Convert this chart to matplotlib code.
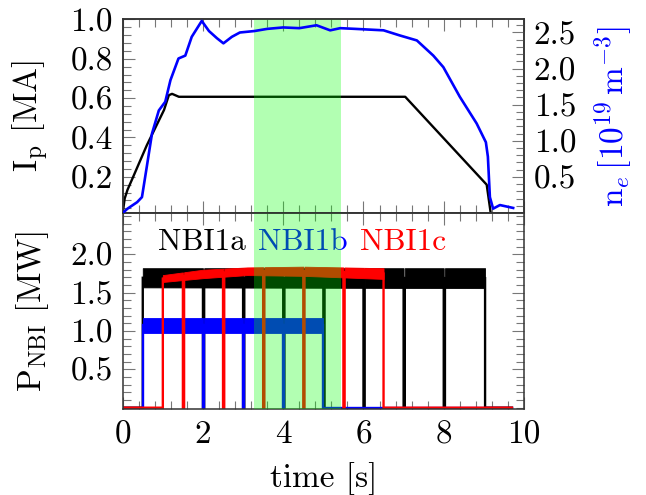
import numpy as np
import matplotlib
matplotlib.use("Agg")
import matplotlib.pyplot as plt
from matplotlib.ticker import MultipleLocator

FS = 24
plt.rcParams.update({
    "font.family": "serif",
    "font.serif": ["cmr10"],
    "mathtext.fontset": "cm",
    "axes.formatter.use_mathtext": True,
    "font.size": FS,
})

# ---------------- data ----------------
# plasma current I_p [MA]
ip_t = [0.0, 0.05, 0.12, 0.24, 0.60, 1.03, 1.15, 1.23, 1.40, 3.0, 5.0, 7.04, 9.07, 9.17]
ip_v = [0.016, 0.09, 0.134, 0.19, 0.36, 0.54, 0.615, 0.622, 0.607, 0.607, 0.607, 0.607, 0.16, 0.016]

# line-averaged density n_e [1e19 m^-3]
ne_t = [0.0, 0.12, 0.36, 0.48, 0.60, 0.73, 0.90, 1.06, 1.19, 1.39, 1.56, 1.72, 1.97,
        2.15, 2.35, 2.51, 2.72, 2.92, 3.28, 3.6, 4.0, 4.4, 4.83, 5.17, 5.42, 5.8,
        6.5, 6.9, 7.33, 7.74, 7.99, 8.4, 8.82, 9.05, 9.10, 9.15, 9.23, 9.40, 9.73]
ne_v = [0.0, 0.06, 0.15, 0.22, 0.64, 1.10, 1.42, 1.54, 1.84, 2.14, 2.18, 2.44, 2.66,
        2.52, 2.42, 2.35, 2.44, 2.50, 2.52, 2.55, 2.57, 2.56, 2.60, 2.53, 2.56, 2.55,
        2.53, 2.46, 2.39, 2.18, 2.02, 1.61, 1.24, 0.98, 0.78, 0.22, 0.06, 0.11, 0.07]

# NBI sources: switch-on, switch-off, short notches, noise envelope [MW]
nbi1a_on, nbi1a_off = 0.50, 9.03
nbi1a_notch = [2.0, 3.0, 4.0, 5.0, 6.0, 7.0, 8.0]
nbi1a_env_t = [0.50, 9.03]
nbi1a_lo = [1.57, 1.56]
nbi1a_hi = [1.82, 1.82]

nbi1b_on, nbi1b_off = 0.50, 5.00
nbi1b_notch = [2.0, 3.0, 4.0]
nbi1b_env_t = [0.50, 5.00]
nbi1b_lo = [0.98, 0.98]
nbi1b_hi = [1.17, 1.17]

nbi1c_on, nbi1c_off = 1.00, 6.50
nbi1c_notch = [1.5, 2.5, 3.5, 4.5, 5.5]
nbi1c_env_t = [1.00, 2.00, 3.10, 4.50, 6.50]
nbi1c_lo = [1.64, 1.69, 1.73, 1.72, 1.68]
nbi1c_hi = [1.73, 1.80, 1.83, 1.84, 1.82]

notch_gap = 0.03
t_end = 9.7
band = (3.27, 5.43)

# ---------------- figure ----------------
fig = plt.figure(figsize=(6.46, 4.95), dpi=100)
L, W = 122.7 / 646, (524 - 122.7) / 646
ax1 = fig.add_axes([L, 1 - 213 / 495, W, (213 - 19.5) / 495])
ax3 = fig.add_axes([L, 1 - 409 / 495, W, (409 - 213) / 495], sharex=ax1)
ax2 = ax1.twinx()

spine_col = "#333333"
tick_col = "#777777"


def style(ax):
    for s in ax.spines.values():
        s.set_color(spine_col)
        s.set_linewidth(1.1)
    ax.tick_params(which="both", direction="in", color=tick_col, width=0.8,
                   labelsize=FS, pad=7)
    ax.tick_params(which="major", length=8.4)
    ax.tick_params(which="minor", length=5.6)


# top panel
ax1.plot(ip_t, ip_v, color="black", lw=1.7, zorder=2)
ax1.axvspan(*band, color=(0, 1, 0), alpha=0.3, lw=0, zorder=5)
ax1.set_xlim(0, 10)
ax1.set_ylim(0.016, 1.0)
ax1.set_yticks([0.2, 0.4, 0.6, 0.8, 1.0])
ax1.set_yticklabels(["0.2", "0.4", "0.6", "0.8", "1.0"])
ax1.yaxis.set_minor_locator(MultipleLocator(0.04))
ax1.xaxis.set_major_locator(MultipleLocator(2))
ax1.xaxis.set_minor_locator(MultipleLocator(0.4))
style(ax1)
ax1.tick_params(which="both", top=True, bottom=True, left=True, right=False,
                labelbottom=False)
ax1.set_ylabel(r"$\mathrm{I_p}$ [MA]", fontsize=FS, labelpad=14)

ax2.plot(ne_t, ne_v, color="blue", lw=1.9, zorder=3)
ax2.set_ylim(0.0, 2.68)
ax2.set_yticks([0.5, 1.0, 1.5, 2.0, 2.5])
ax2.set_yticklabels(["0.5", "1.0", "1.5", "2.0", "2.5"])
ax2.yaxis.set_minor_locator(MultipleLocator(0.1))
style(ax2)
ax2.tick_params(which="both", right=True, left=False, top=False, bottom=False)
ax2.set_ylabel(r"$\mathrm{n}_e\,[10^{19}\,\mathrm{m}^{-3}]$", color="blue",
               fontsize=FS, labelpad=12)


# bottom panel
def draw_beam(ax, t_on, t_off, notches, env_t, lo, hi, color, z):
    env_t = np.asarray(env_t)
    lo = np.asarray(lo)
    hi = np.asarray(hi)
    mid = (lo + hi) / 2

    def lvl(t):
        return float(np.interp(t, env_t, mid))

    ts = [0.0, t_on, t_on]
    ys = [0.0, 0.0, lvl(t_on)]
    for n in notches:
        ts += [n, n, n + notch_gap, n + notch_gap]
        ys += [lvl(n), 0.0, 0.0, lvl(n + notch_gap)]
    ts += [t_off, t_off, t_end]
    ys += [lvl(t_off), 0.0, 0.0]
    ax.plot(ts, ys, color=color, lw=1.7, zorder=z, solid_joinstyle="miter")

    starts = [t_on] + [n + notch_gap for n in notches]
    stops = list(notches) + [t_off]
    for a, b in zip(starts, stops):
        inner = [t for t in env_t if a < t < b]
        st = np.array([a] + inner + [b])
        ax.fill_between(st, np.interp(st, env_t, lo), np.interp(st, env_t, hi),
                        color=color, lw=0.6, zorder=z)


draw_beam(ax3, nbi1a_on, nbi1a_off, nbi1a_notch, nbi1a_env_t, nbi1a_lo, nbi1a_hi, "black", 2)
draw_beam(ax3, nbi1b_on, nbi1b_off, nbi1b_notch, nbi1b_env_t, nbi1b_lo, nbi1b_hi, "blue", 2.1)
draw_beam(ax3, nbi1c_on, nbi1c_off, nbi1c_notch, nbi1c_env_t, nbi1c_lo, nbi1c_hi, "red", 2.2)
ax3.axvspan(*band, color=(0, 1, 0), alpha=0.3, lw=0, zorder=10)

NFS = 22.5
ax3.text(0.89, 2.06, "NBI1a", color="black", fontsize=NFS, ha="left", va="baseline", zorder=4)
ax3.text(3.38, 2.06, "NBI1b", color="blue", fontsize=NFS, ha="left", va="baseline", zorder=4)
ax3.text(5.91, 2.06, "NBI1c", color="red", fontsize=NFS, ha="left", va="baseline", zorder=4)

ax3.set_xlim(0, 10)
ax3.set_ylim(-0.017, 2.54)
ax3.set_yticks([0.5, 1.0, 1.5, 2.0])
ax3.set_yticklabels(["0.5", "1.0", "1.5", "2.0"])
ax3.yaxis.set_minor_locator(MultipleLocator(0.1))
ax3.set_xticks([0, 2, 4, 6, 8, 10])
ax3.set_xticklabels(["0", "2", "4", "6", "8", "10"])
ax3.xaxis.set_minor_locator(MultipleLocator(0.4))
style(ax3)
ax3.tick_params(which="both", top=True, bottom=True, left=True, right=True)
ax3.tick_params(axis="x", pad=8)
ax3.set_xlabel("time [s]", fontsize=FS, labelpad=9)
ax3.set_ylabel(r"$\mathrm{P_{NBI}}$ [MW]", fontsize=FS, labelpad=14)

fig.align_ylabels([ax1, ax3])
fig.savefig("out.png", dpi=100)
